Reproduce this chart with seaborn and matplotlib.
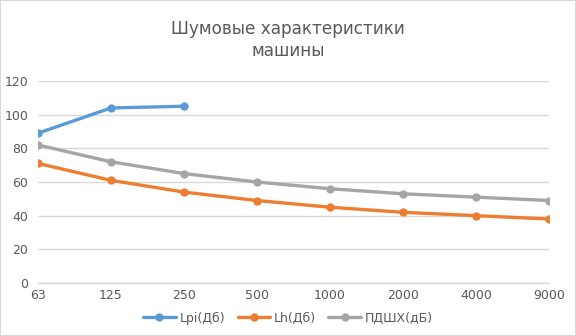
import numpy as np
import pandas as pd
import seaborn as sns
import matplotlib
matplotlib.use("Agg")
import matplotlib.pyplot as plt
from matplotlib.patches import Rectangle
from matplotlib.lines import Line2D

# Octave-band frequencies (Hz) and sound levels (dB)
freqs = ["63", "125", "250", "500", "1000", "2000", "4000", "9000"]
lpi = [89, 104, 105, np.nan, np.nan, np.nan, np.nan, np.nan]
lh = [71, 61, 54, 49, 45, 42, 40, 38]
pdshx = [82, 72, 65, 60, 56, 53, 51, 49]

series_names = ["Lpi(Дб)", "Lh(Дб)", "ПДШХ(дБ)"]
series_values = [lpi, lh, pdshx]
colors = ["#5B9BD5", "#ED7D31", "#A5A5A5"]

rows = []
for name, vals in zip(series_names, series_values):
    for i, v in enumerate(vals):
        rows.append({"pos": i, "freq": freqs[i], "series": name, "value": v})
df = pd.DataFrame(rows).dropna()

sns.set_theme(style="white")
plt.rcParams["font.family"] = ["DejaVu Sans"]
text_color = "#595959"
grid_color = "#D9D9D9"

fig = plt.figure(figsize=(5.76, 3.36), dpi=100)
ax = fig.add_axes([38 / 576, 1 - 283 / 336, (549 - 38) / 576, (283 - 81) / 336])

sns.lineplot(
    data=df, x="pos", y="value", hue="series", hue_order=series_names,
    palette=colors, marker="o", markersize=6, markeredgewidth=0,
    linewidth=2.4, legend=False, ax=ax, sort=False,
)

ax.set_xlim(0, len(freqs) - 1)
ax.set_ylim(0, 120)
ax.set_yticks(range(0, 121, 20))
ax.set_xticks(range(len(freqs)))
ax.set_xticklabels(freqs)
ax.set_xlabel("")
ax.set_ylabel("")
ax.tick_params(axis="both", colors=text_color, labelsize=9, length=0)
ax.tick_params(axis="x", pad=4)
ax.tick_params(axis="y", pad=7)
ax.yaxis.grid(True, color=grid_color, linewidth=1)
ax.set_axisbelow(True)
for s in ["top", "right", "left"]:
    ax.spines[s].set_visible(False)
ax.spines["bottom"].set_color(grid_color)
ax.spines["bottom"].set_linewidth(1)

fig.text(0.5, 1 - 40 / 336, "Шумовые характеристики\nмашины", ha="center", va="center",
         fontsize=12.2, color=text_color, linespacing=1.3)

handles = [Line2D([], [], color=c, linewidth=2.4, marker="o", markersize=6, markeredgewidth=0)
           for c in colors]
fig.legend(handles, series_names, loc="center", bbox_to_anchor=(0.5, 1 - 318 / 336),
           ncol=3, frameon=False, fontsize=9, labelcolor=text_color,
           handlelength=2.6, columnspacing=1.0, handletextpad=0.3)

fig.patches.append(Rectangle((0, 0), 1, 1, transform=fig.transFigure, fill=False,
                             edgecolor=grid_color, linewidth=1.5))

fig.savefig("out.png", dpi=100)
